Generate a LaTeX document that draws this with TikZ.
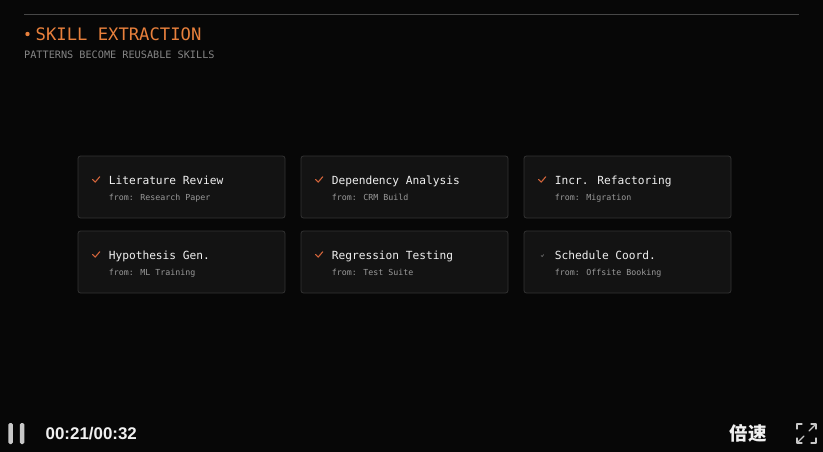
\documentclass[tikz,border=0pt]{standalone}
\usepackage{fontspec}
\setmainfont{DejaVu Sans Mono}
\newfontfamily\monofnt{DejaVu Sans Mono}
\newfontfamily\uifnt{Liberation Sans}
\newfontfamily\cjkfnt{Noto Sans CJK SC}
\definecolor{bg}{HTML}{070707}
\definecolor{cardfill}{HTML}{131313}
\definecolor{cardline}{HTML}{333333}
\definecolor{accent}{HTML}{E8803C}
\definecolor{checkc}{HTML}{D2643A}
\definecolor{subgray}{HTML}{858585}
\definecolor{fromgray}{HTML}{9A9A9A}
\definecolor{titlewhite}{HTML}{F0F0F0}
\definecolor{uigray}{HTML}{C8C8C8}
\begin{document}
\begin{tikzpicture}[x=1pt,y=-1pt,
  card/.style={draw=cardline,line width=0.8pt,fill=cardfill,rounded corners=2.5pt,minimum width=207pt,minimum height=62pt,inner sep=0pt},
  skilltitle/.style={anchor=base west,inner sep=0pt,text=titlewhite,font=\monofnt\fontsize{11.2}{13}\selectfont},
  skillfrom/.style={anchor=base west,inner sep=0pt,text=fromgray,font=\monofnt\fontsize{8.3}{10}\selectfont},
  tick/.style={draw=checkc,line width=1.1pt,line cap=round,line join=round},
  dimtick/.style={draw=cardline!70!white,line width=0.7pt,line cap=round},
  uiline/.style={draw=uigray,line width=1.6pt,line cap=round,line join=round}]
\fill[bg] (0,0) rectangle (823,452);
\useasboundingbox (0,0) rectangle (823,452);
% top rule
\draw[draw=white!28!black,line width=0.7pt] (24,14.5) -- (799,14.5);
% header
\fill[accent] (27.5,34) circle (2.2pt);
\node[anchor=west,inner sep=0pt,text=accent,font=\monofnt\fontsize{17.2}{20}\selectfont] (title) at (35.5,34) {SKILL EXTRACTION};
\node[anchor=west,inner sep=0pt,text=subgray,font=\monofnt\fontsize{10.2}{12}\selectfont] (subtitle) at (24,55) {PATTERNS BECOME REUSABLE SKILLS};
% cards
\foreach \n/\cx/\cy/\t/\f in {c1/181.5/187/Literature Review/Research Paper,
  c2/404.5/187/Dependency Analysis/CRM Build,
  c3/627.5/187/Incr. Refactoring/Migration,
  c4/181.5/262/Hypothesis Gen./ML Training,
  c5/404.5/262/Regression Testing/Test Suite,
  c6/627.5/262/Schedule Coord./Offsite Booking}{
  \node[card] (\n) at (\cx,\cy) {};
  \node[skilltitle] (\n t) at ([xshift=31pt,yshift=3pt]\n.west) {\t};
  \node[skillfrom] (\n f) at ([xshift=31pt,yshift=-13pt]\n.west) {from: \f};
}
% check marks
\foreach \n in {c1,c2,c3,c4,c5}{
  \draw[tick] ([xshift=-16pt,yshift=4.5pt]\n t.base west) -- ++(2.6,2.6) -- ++(4.6,-5.4);
}
\draw[dimtick] ([xshift=-13.5pt,yshift=3.5pt]c6t.base west) -- ++(1,1) -- ++(1.6,-1.8);
% player controls
\fill[uigray,rounded corners=1.5pt] (8.3,423) rectangle (12.8,444);
\fill[uigray,rounded corners=1.5pt] (19.8,423) rectangle (24.3,444);
\node[anchor=west,inner sep=0pt,text=titlewhite,font=\uifnt\bfseries\fontsize{16.9}{18}\selectfont] (time) at (45.5,433.5) {00:21/00:32};
\node[anchor=west,inner sep=0pt,text=titlewhite,font=\cjkfnt\bfseries\fontsize{18.5}{20}\selectfont] (speed) at (729.5,433) {倍速};
% fullscreen icon
\draw[uiline,line width=1.3pt] (797,429) -- (797,424) -- (802,424);
\draw[uiline,line width=1.3pt] (811,424) -- (816,424) -- (816,429);
\draw[uiline,line width=1.3pt] (797,438) -- (797,443) -- (802,443);
\draw[uiline,line width=1.3pt] (811,443) -- (816,443) -- (816,438);
\draw[uiline,line width=1.1pt] (815,425) -- (809,431);
\draw[uiline,line width=1.1pt] (798,442) -- (804,436);
\end{tikzpicture}
\end{document}
